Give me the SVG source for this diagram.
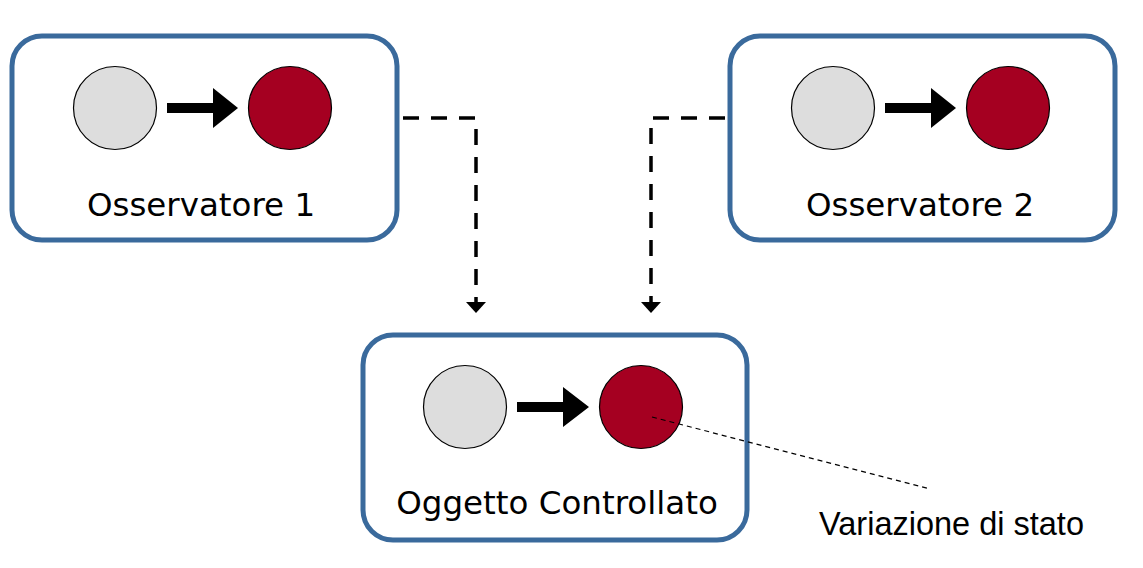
<svg xmlns="http://www.w3.org/2000/svg" width="1143" height="568" viewBox="0 0 1143 568">
<defs>
<style>
.box{fill:#fff;stroke:#3A6A9C;stroke-width:5}
.off{fill:#DDDDDD;stroke:#000;stroke-width:1.2}
.on{fill:#A50021;stroke:#000;stroke-width:1.2}
.lbl{font-family:"DejaVu Sans",Verdana,sans-serif;font-size:32.5px;fill:#000;text-anchor:middle}
.conn{fill:none;stroke:#000;stroke-width:3.5;stroke-dasharray:16 12}
.lead{fill:none;stroke:#000;stroke-width:1.2;stroke-dasharray:5 4}
.note{font-family:"Liberation Sans",Arial,sans-serif;font-size:32.5px;fill:#000}
.tri{fill:#000}
</style>
</defs>
<g id="connectors">
<path class="conn" d="M403,118 H476 V303"/>
<path class="tri" d="M466,302 L486,302 L476,313 Z"/>
<path class="conn" d="M725,118 H651 V303"/>
<path class="tri" d="M641,302 L661,302 L651,313 Z"/>
</g>
<g id="osservatore1">
<rect class="box" x="12" y="36" width="385" height="204" rx="30"/>
<circle class="off" cx="115" cy="108" r="41.5"/>
<circle class="on" cx="290" cy="108" r="41.5"/>
<path class="tri" d="M167,103 H213 V88 L238,108 L213,128 V113 H167 Z"/>
<text class="lbl" x="201" y="216">Osservatore 1</text>
</g>
<g id="osservatore2">
<rect class="box" x="730" y="36" width="385" height="204" rx="30"/>
<circle class="off" cx="833" cy="108" r="41.5"/>
<circle class="on" cx="1008" cy="108" r="41.5"/>
<path class="tri" d="M885,103 H931 V88 L956,108 L931,128 V113 H885 Z"/>
<text class="lbl" x="920" y="216">Osservatore 2</text>
</g>
<g id="oggetto">
<rect class="box" x="363" y="335" width="384" height="205" rx="30"/>
<circle class="off" cx="465" cy="407" r="41.5"/>
<circle class="on" cx="641" cy="407" r="41.5"/>
<path class="tri" d="M517,402 H563 V387 L589,407 L563,427 V412 H517 Z"/>
<text class="lbl" x="557" y="514">Oggetto Controllato</text>
</g>
<g id="leader">
<path class="lead" d="M652,417 L930,489"/>
</g>
<g id="nota">
<text class="note" x="819" y="535">Variazione di stato</text>
</g>
</svg>
